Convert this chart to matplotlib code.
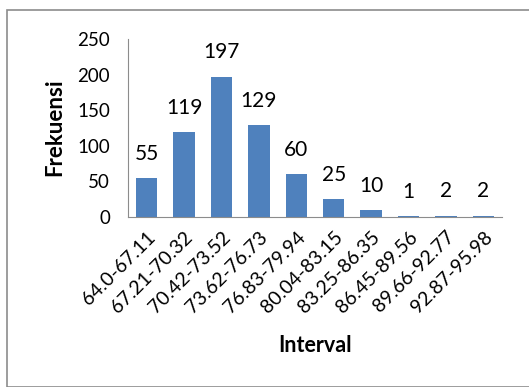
import matplotlib
matplotlib.use("Agg")
import matplotlib.pyplot as plt
from matplotlib.patches import Rectangle

categories = ["64.0-67.11", "67.21-70.32", "70.42-73.52", "73.62-76.73", "76.83-79.94",
              "80.04-83.15", "83.25-86.35", "86.45-89.56", "89.66-92.77", "92.87-95.98"]
values = [55, 119, 197, 129, 60, 25, 10, 1, 2, 2]
yticks = [0, 50, 100, 150, 200, 250]

plt.rcParams['font.family'] = ['Lato', 'DejaVu Sans']
W, H = 529, 387
fig = plt.figure(figsize=(W/100, H/100), dpi=100)
fig.patches.append(Rectangle((7/W, 0), 1.2, 1 - 10/H, transform=fig.transFigure,
                             fill=False, edgecolor='#8c8c8c', linewidth=1.2))
ax = fig.add_axes([128/W, 1 - 217/H, (502-128)/W, (217-39)/H])
x = range(len(categories))
bars = ax.bar(x, values, width=0.57, color='#4F81BD')
for xi, v in zip(x, values):
    ax.text(xi, v + 20, str(v), ha='center', va='bottom', fontsize=15)
ax.set_xlim(-0.5, len(categories) - 0.5)
ax.set_ylim(0, 250)
ax.set_yticks(yticks)
ax.set_xticks(list(x))
ax.set_xticklabels(categories, rotation=45, ha='right', rotation_mode='anchor', fontsize=14)
ax.tick_params(axis='y', length=0, labelsize=13.5, pad=13)
ax.tick_params(axis='x', length=0, pad=8)
for s in ['top', 'right']:
    ax.spines[s].set_visible(False)
for s in ['left', 'bottom']:
    ax.spines[s].set_color('#8c8c8c')
fig.text(55/W, 1 - 127/H, 'Frekuensi', rotation=90, ha='center', va='center',
         fontsize=16, fontweight='bold')
fig.text(315/W, 1 - 345/H, 'Interval', ha='center', va='center', fontsize=15.5, fontweight='bold')
fig.savefig('out.png', dpi=100)
